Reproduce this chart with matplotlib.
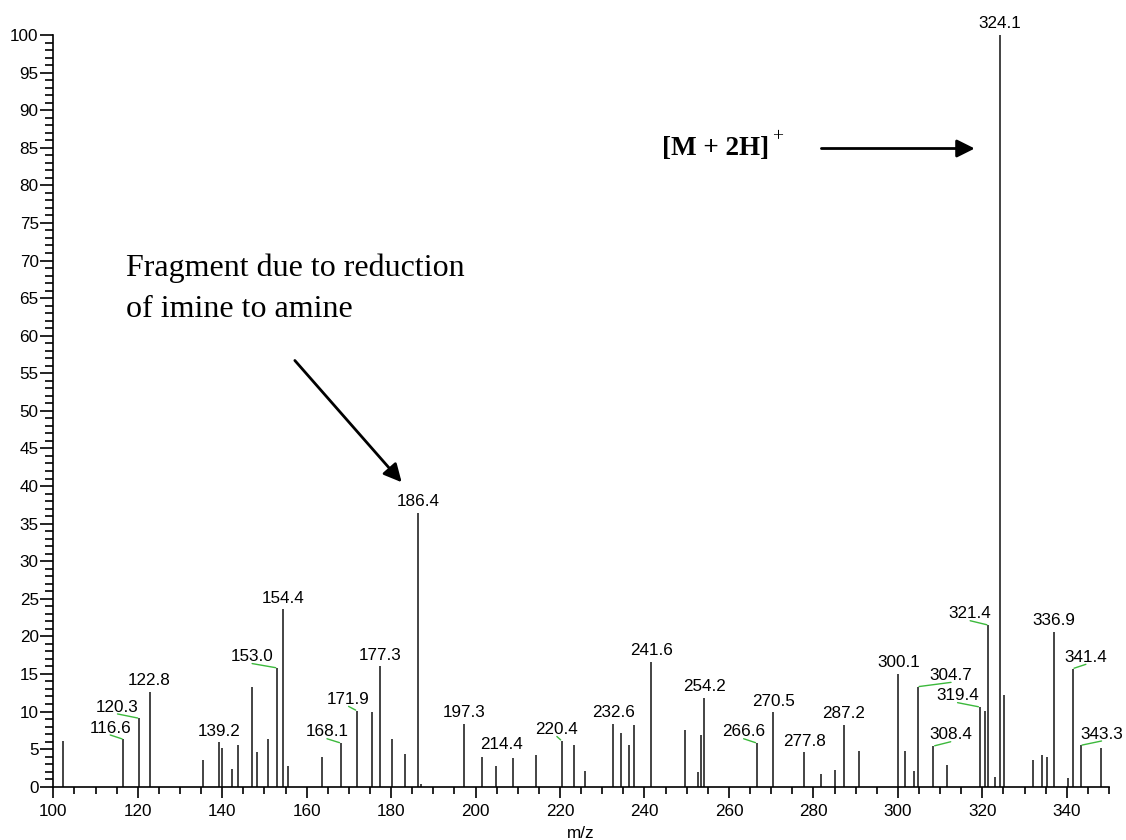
import matplotlib
matplotlib.use("Agg")
import matplotlib.pyplot as plt
from matplotlib.ticker import MultipleLocator

# --- dados do espectro (m/z, intensidade relativa %) ---
mz = [102.2, 116.6, 120.3, 122.8, 135.5, 139.2, 139.9, 142.2, 143.7, 147.0,
      148.3, 150.8, 153.0, 154.4, 155.5, 163.6, 168.1, 171.9, 175.5, 177.3,
      180.1, 183.2, 186.4, 187.1, 197.3, 201.5, 204.8, 208.9, 214.4, 220.4,
      223.2, 225.9, 232.6, 234.4, 236.3, 237.4, 241.6, 249.6, 252.6, 253.3,
      254.2, 266.6, 270.5, 277.8, 281.7, 285.1, 287.2, 290.9, 300.1, 301.7,
      303.8, 304.7, 308.4, 311.6, 319.4, 320.6, 321.4, 323.0, 324.1, 325.1,
      331.9, 334.2, 335.3, 336.9, 340.2, 341.4, 343.3, 348.0]
intensity = [6.1, 6.3, 9.1, 12.6, 3.5, 5.9, 5.2, 2.3, 5.5, 13.3,
             4.6, 6.3, 15.8, 23.6, 2.8, 4.0, 5.8, 10.1, 9.9, 16.0,
             6.3, 4.4, 36.4, 0.3, 8.4, 4.0, 2.7, 3.8, 4.2, 6.1,
             5.5, 2.1, 8.4, 7.2, 5.5, 8.2, 16.6, 7.5, 1.9, 6.9,
             11.8, 5.8, 9.9, 4.6, 1.7, 2.2, 8.2, 4.8, 15.0, 4.8,
             2.1, 13.3, 5.4, 2.9, 10.6, 10.1, 21.5, 1.3, 100.0, 12.2,
             3.6, 4.2, 4.0, 20.6, 1.2, 15.7, 5.5, 5.2]

# picos rotulados
labeled = [116.6, 120.3, 122.8, 139.2, 153.0, 154.4, 168.1, 171.9, 177.3, 186.4,
           197.3, 214.4, 220.4, 232.6, 241.6, 254.2, 266.6, 270.5, 277.8, 287.2,
           300.1, 304.7, 308.4, 319.4, 321.4, 324.1, 336.9, 341.4, 343.3]

# deslocamento horizontal dos rótulos (pontos) e se há linha-guia verde
LABEL_DX = {116.6: -9.5, 120.3: -15.5, 153.0: -18, 168.1: -10, 171.9: -6,
            214.4: -25, 220.4: -3.5, 266.6: -9.5, 304.7: 24, 308.4: 12.5,
            319.4: -16, 321.4: -13, 341.4: 9.5, 343.3: 15}
LEADER = {116.6, 120.3, 153.0, 168.1, 171.9, 220.4, 266.6, 304.7, 308.4,
          319.4, 321.4, 341.4, 343.3}

plt.rcParams.update({
    'font.family': ['Liberation Sans', 'DejaVu Sans'],
    'font.size': 12.3,
})

fig = plt.figure(figsize=(11.26, 8.4), dpi=100)
ax = fig.add_axes([53.3 / 1126, 1 - 786.7 / 840, (1109 - 53.3) / 1126, (786.7 - 35) / 840])

ax.vlines(mz, 0, intensity, color='#111111', linewidth=1.1, clip_on=False)

for m in labeled:
    h = intensity[mz.index(m)]
    dx = LABEL_DX.get(m, 0)
    arrow = None
    if m in LEADER:
        arrow = dict(arrowstyle='-', color='#3cb93c', lw=1.0, shrinkA=0, shrinkB=1,
                     relpos=(0.5, 0.05), patchA=None)
    ax.annotate(f"{m:.1f}", xy=(m, h), xytext=(dx, 8), textcoords='offset points',
                ha='center', va='center', fontsize=12.3, arrowprops=arrow,
                annotation_clip=False)

# anotações
serif = ['Liberation Serif', 'DejaVu Serif']
ax.text(117.2, 68.0, "Fragment due to reduction", family=serif, fontsize=23, va='baseline')
ax.text(117.2, 62.5, "of imine to amine", family=serif, fontsize=23, va='baseline')
ax.annotate("", xy=(182.5, 40.5), xytext=(157.2, 56.7),
            arrowprops=dict(arrowstyle='-|>,head_length=0.4,head_width=0.2',
                            mutation_scale=27, lw=2, color='black',
                            shrinkA=0, shrinkB=0))

ion = ax.text(244.1, 84.0, "[M + 2H]", family=serif, fontsize=19.5,
              fontweight='bold', va='baseline')
ax.annotate("+", xy=(1, 1), xycoords=ion, xytext=(2.5, 0),
            textcoords='offset points', family=serif, fontsize=14,
            ha='left', va='center')
ax.annotate("", xy=(318.2, 84.9), xytext=(281.9, 84.9),
            arrowprops=dict(arrowstyle='-|>,head_length=0.4,head_width=0.2',
                            mutation_scale=27, lw=2, color='black',
                            shrinkA=0, shrinkB=0))

ax.set_xlim(100, 350)
ax.set_ylim(0, 100)
ax.xaxis.set_minor_locator(MultipleLocator(5))
ax.yaxis.set_major_locator(MultipleLocator(5))
ax.yaxis.set_minor_locator(MultipleLocator(1))
ax.set_xticks(range(100, 341, 20))

for s in ['top', 'right']:
    ax.spines[s].set_visible(False)
for s in ['left', 'bottom']:
    ax.spines[s].set_linewidth(1.2)

ax.tick_params(axis='x', which='major', length=8, width=1.2, pad=4.5)
ax.tick_params(axis='x', which='minor', length=5, width=1.2)
ax.tick_params(axis='y', which='major', length=9.5, width=1.2, pad=1)
ax.tick_params(axis='y', which='minor', length=6, width=1.2)

ax.set_xlabel("m/z", labelpad=5)

plt.savefig("out.png", dpi=100)
